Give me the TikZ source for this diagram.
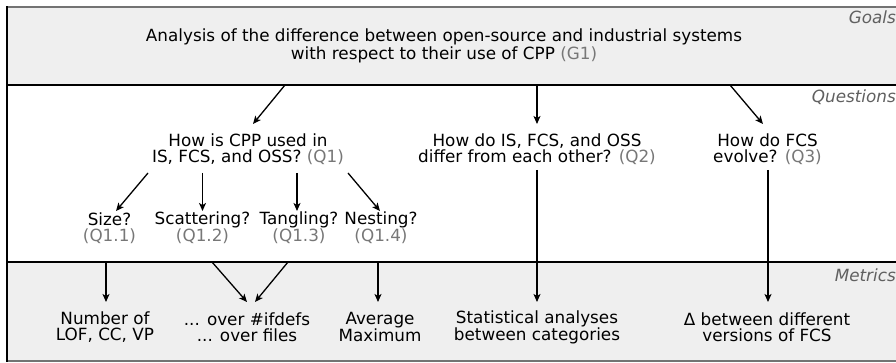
\documentclass[tikz,border=0pt]{standalone}
\usepackage{fontspec}
\setmainfont{DejaVu Sans}
\usetikzlibrary{arrows.meta,calc}
\definecolor{bandgray}{HTML}{EFEFEF}
\definecolor{idgray}{HTML}{777777}
\definecolor{labgray}{HTML}{606060}
\newcommand\qid[1]{\textcolor{idgray}{#1}}
\begin{document}
\begin{tikzpicture}[x=1pt,y=1pt,
  txt/.style={font=\fontsize{16.8}{15.5}\selectfont, align=center, inner sep=0pt},
  lab/.style={font=\fontsize{16.8}{16}\selectfont\itshape, text=labgray, anchor=base east, inner sep=0pt},
  arr/.style={-{Stealth[length=8pt,width=7pt,inset=2pt]}, line width=1.3pt},
  divider/.style={line width=1.2pt, black},
  edge/.style={line width=1.2pt, black!55}]
\useasboundingbox (0,0) rectangle (896,363);
% bands
\fill[bandgray] (7,278) rectangle (910,356);
\fill[bandgray] (7,2) rectangle (910,101);
\draw[edge] (910,356) -- (7,356);
\draw[edge] (910,2) -- (7,2);
\draw[divider] (7,278) -- (910,278);
\draw[divider] (7,101) -- (910,101);
\draw[divider] (7,1.4) -- (7,356.6);
% band labels
\node[lab] (lg) at (896,339) {Goals};
\node[lab] (lq) at (896,260.5) {Questions};
\node[lab] (lm) at (896,81) {Metrics};
% goal
\node[txt] (g1) at (444,317) {Analysis of the difference between open-source and industrial systems\\with respect to their use of CPP \qid{(G1)}};
% questions
\node[txt] (q1) at (248,214) {How is CPP used in\\IS, FCS, and OSS? \qid{(Q1)}};
\node[txt] (q2) at (537,214) {How do IS, FCS, and OSS\\differ from each other? \qid{(Q2)}};
\node[txt] (q3) at (767.5,214) {How do FCS\\evolve? \qid{(Q3)}};
% sub-questions
\node[txt] (s1) at (109.5,135) {Size?\\\qid{(Q1.1)}};
\node[txt] (s2) at (202.5,135) {Scattering?\\\qid{(Q1.2)}};
\node[txt] (s3) at (299,135) {Tangling?\\\qid{(Q1.3)}};
\node[txt] (s4) at (381,135) {Nesting?\\\qid{(Q1.4)}};
% metrics
\node[txt] (m1) at (105,36) {Number of\\LOF, CC, VP};
\node[txt] (m2) at (247,36) {... over \#ifdefs\\... over files};
\node[txt] (m3) at (380,36) {Average\\Maximum};
\node[txt] (m4) at (537,36) {Statistical analyses\\between categories};
\node[txt] (m5) at (767,36) {Δ between different\\versions of FCS};
% connectors
\draw[arr] ($(g1.center)+(-159,-39)$) -- ($(q1.center)+(5,25)$);
\draw[arr] ($(g1.center)+(93,-39)$) -- ($(q2.center)+(0,25)$);
\draw[arr] ($(g1.center)+(286,-39)$) -- ($(q3.center)+(-4.5,25)$);
\draw[arr] ($(q1.center)+(-100,-24)$) -- ($(s1.center)+(6.5,17)$);
\draw[arr] ($(q1.center)+(-45.5,-24)$) -- ($(s2.center)+(0,17)$);
\draw[arr] ($(q1.center)+(49,-24)$) -- ($(s3.center)+(-2,17)$);
\draw[arr] ($(q1.center)+(100,-24)$) -- ($(s4.center)+(-1,17)$);
\draw[arr] ($(s1.center)+(-3.5,-34)$) -- ($(m1.center)+(1,25)$);
\draw[arr] ($(s2.center)+(9.5,-34)$) -- ($(m2.center)+(0,25)$);
\draw[arr] ($(s3.center)+(-11,-34)$) -- ($(m2.center)+(8,25)$);
\draw[arr] ($(s4.center)+(-3,-34)$) -- ($(m3.center)+(-2,25)$);
\draw[arr] ($(q2.center)+(0,-21)$) -- ($(m4.center)+(0,25)$);
\draw[arr] ($(q3.center)+(0.5,-21)$) -- ($(m5.center)+(1,25)$);
\end{tikzpicture}
\end{document}
